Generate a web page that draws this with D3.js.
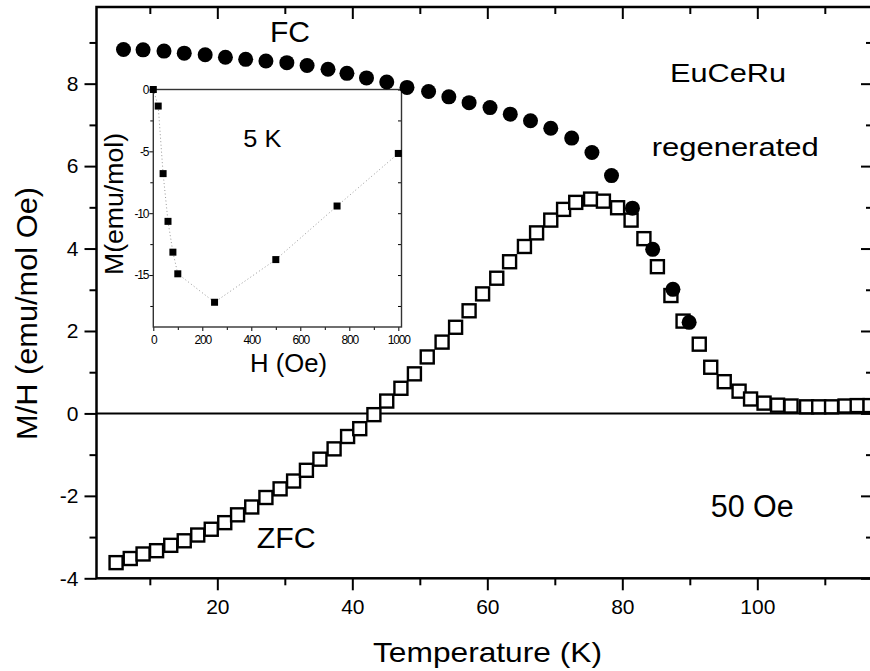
<!DOCTYPE html>
<html>
<head>
<meta charset="utf-8">
<script src="https://cdn.jsdelivr.net/npm/d3@7"></script>
<style>
  html, body { margin: 0; padding: 0; background: #fff; }
  svg { display: block; font-family: "Liberation Sans", Arial, Helvetica, sans-serif; }
</style>
</head>
<body>
<svg id="chart" width="870" height="671"></svg>
<script>
// ---- Main plot data (M/H vs Temperature, 50 Oe) ----
const fcTemp = [6.1, 9.0, 12.1, 15.1, 18.2, 21.2, 24.2, 27.2, 30.3, 33.3, 36.4, 39.2, 42.1, 45.1, 48.1,
  51.3, 54.3, 57.3, 60.4, 63.4, 66.4, 69.4, 72.5, 75.5, 78.4, 81.5, 84.5, 87.5, 89.9];
const fcMH = [8.83, 8.82, 8.79, 8.74, 8.70, 8.64, 8.59, 8.55, 8.51, 8.44, 8.35, 8.25, 8.14, 8.04, 7.91,
  7.81, 7.68, 7.54, 7.42, 7.26, 7.10, 6.92, 6.68, 6.33, 5.77, 4.98, 3.98, 3.01, 2.21];

const zfcTemp = [5.0, 7.1, 9.0, 11.0, 13.1, 15.1, 17.1, 19.1, 21.1, 23.0, 25.1, 27.2, 29.3, 31.3, 33.2,
  35.2, 37.3, 39.3, 41.1, 43.2, 45.1, 47.2, 49.2, 51.1, 53.3, 55.3, 57.3, 59.3, 61.4, 63.3,
  65.5, 67.3, 69.4, 71.3, 73.1, 75.3, 77.2, 79.3, 81.3, 83.2, 85.2, 87.2, 89.0, 91.4, 93.1,
  95.1, 97.3, 99.0, 101.0, 103.0, 105.0, 107.3, 109.1, 111.0, 113.0, 114.8, 116.7];
const zfcMH = [-3.62, -3.52, -3.41, -3.33, -3.20, -3.09, -2.95, -2.81, -2.65, -2.46, -2.27, -2.04, -1.83, -1.64, -1.38,
  -1.11, -0.86, -0.56, -0.37, -0.03, 0.30, 0.61, 0.96, 1.37, 1.73, 2.09, 2.49, 2.90, 3.28, 3.68,
  4.05, 4.38, 4.69, 4.95, 5.12, 5.20, 5.15, 4.99, 4.69, 4.24, 3.56, 2.86, 2.24, 1.68, 1.12,
  0.77, 0.54, 0.35, 0.25, 0.20, 0.18, 0.16, 0.16, 0.16, 0.18, 0.19, 0.19];

const xMajorTicks = [20, 40, 60, 80, 100];
const xMinorTicks = [10, 30, 50, 70, 90, 110];
const yMajorTicks = [-4, -2, 0, 2, 4, 6, 8];
const yMinorTicks = [-3, -1, 1, 3, 5, 7, 9];

// ---- Inset data (M vs H at 5 K) ----
const insetH = [0, 20, 40, 60, 80, 100, 250, 500, 750, 1000];
const insetM = [0, -1.34, -6.80, -10.66, -13.15, -14.9, -17.2, -13.75, -9.42, -5.17];
const insetXMajor = [0, 200, 400, 600, 800, 1000];
const insetXMinor = [100, 300, 500, 700, 900];
const insetYMajor = [0, -5, -10, -15];
const insetYMinor = [-2.5, -7.5, -12.5, -17.5];

// ---- Layout ----
const svg = d3.select("#chart");
const L = 96.5, R = 873, T = 7, B = 578.3;
const x = d3.scaleLinear().domain([2.1, 117.14]).range([L, R]);
const y = d3.scaleLinear().domain([-4, 9.86]).range([B, T]);

const IL = 153.3, IR = 401.5, IT = 89.5, IB = 327;
const ix = d3.scaleLinear().domain([0, 1013]).range([IL, IR]);
const iy = d3.scaleLinear().domain([-19.2, 0]).range([IB, IT]);

const fmt = d => String(d);  // plain hyphen-minus like the original

function styleAxis(g, sw, fs) {
  g.select(".domain").remove();
  g.selectAll(".tick line").attr("stroke", "#000").attr("stroke-width", sw);
  g.selectAll(".tick text").attr("fill", "#000").style("font-size", fs + "px")
    .style("font-family", '"Liberation Sans", Arial, sans-serif');
}

// ---- Inset (drawn first, beneath main data) ----
const inset = svg.append("g");
inset.append("g").attr("transform", `translate(0,${IB})`)
  .call(d3.axisBottom(ix).tickValues(insetXMajor).tickSize(4).tickPadding(4).tickFormat(fmt))
  .call(g => styleAxis(g, 1, 12))
  .call(g => g.selectAll(".tick text").attr("letter-spacing", "-1.2px"));
inset.append("g").attr("transform", `translate(0,${IB})`)
  .call(d3.axisBottom(ix).tickValues(insetXMinor).tickSize(3).tickFormat(""))
  .call(g => styleAxis(g, 1, 12));
inset.append("g").attr("transform", `translate(${IL},0)`)
  .call(d3.axisLeft(iy).tickValues(insetYMajor).tickSize(4).tickPadding(1).tickFormat(fmt))
  .call(g => styleAxis(g, 1, 12))
  .call(g => g.selectAll(".tick text").attr("letter-spacing", "-1.2px"));
inset.append("g").attr("transform", `translate(${IL},0)`)
  .call(d3.axisLeft(iy).tickValues(insetYMinor).tickSize(3).tickFormat(""))
  .call(g => styleAxis(g, 1, 12));
inset.append("g").attr("transform", `translate(${IR},0)`)
  .call(d3.axisRight(iy).tickValues(insetYMajor.concat(insetYMinor)).tickSize(-3.5).tickFormat(""))
  .call(g => styleAxis(g, 1, 12));
inset.append("rect")
  .attr("x", IL).attr("y", IT).attr("width", IR - IL).attr("height", IB - IT)
  .attr("fill", "none").attr("stroke", "#333").attr("stroke-width", 1.4);

const insetPts = insetH.map((h, i) => [h, insetM[i]]);
inset.append("path")
  .datum(insetPts)
  .attr("fill", "none").attr("stroke", "#999").attr("stroke-width", 1)
  .attr("stroke-dasharray", "1,2.5")
  .attr("d", d3.line().x(d => ix(d[0])).y(d => iy(d[1])));
inset.selectAll("rect.ipt").data(insetPts).enter().append("rect")
  .attr("class", "ipt")
  .attr("x", d => ix(d[0]) - 3.5).attr("y", d => iy(d[1]) - 3.5)
  .attr("width", 7).attr("height", 7).attr("fill", "#000");

inset.append("text").attr("x", 243.3).attr("y", 146.7)
  .style("font-size", "24px").attr("textLength", 38).attr("lengthAdjust", "spacingAndGlyphs").text("5 K");
inset.append("text").attr("x", 250).attr("y", 371.7)
  .style("font-size", "26px").attr("textLength", 77).attr("lengthAdjust", "spacingAndGlyphs").text("H (Oe)");
inset.append("text")
  .attr("transform", "translate(123,204) rotate(-90)")
  .attr("text-anchor", "middle")
  .style("font-size", "26px").attr("textLength", 142).attr("lengthAdjust", "spacingAndGlyphs").text("M(emu/mol)");

// ---- Main axes ----
const axes = svg.append("g");
axes.append("g").attr("transform", `translate(0,${B})`)
  .call(d3.axisBottom(x).tickValues(xMajorTicks).tickSize(12).tickPadding(9).tickFormat(fmt))
  .call(g => styleAxis(g, 2, 21));
axes.append("g").attr("transform", `translate(0,${B})`)
  .call(d3.axisBottom(x).tickValues(xMinorTicks).tickSize(7).tickFormat(""))
  .call(g => styleAxis(g, 2, 21));
axes.append("g").attr("transform", `translate(0,${T})`)
  .call(d3.axisTop(x).tickValues(xMajorTicks).tickSize(-12).tickFormat(""))
  .call(g => styleAxis(g, 2, 21));
axes.append("g").attr("transform", `translate(0,${T})`)
  .call(d3.axisTop(x).tickValues(xMinorTicks).tickSize(-7).tickFormat(""))
  .call(g => styleAxis(g, 2, 21));
axes.append("g").attr("transform", `translate(${L},0)`)
  .call(d3.axisLeft(y).tickValues(yMajorTicks).tickSize(12).tickPadding(6).tickFormat(fmt))
  .call(g => styleAxis(g, 2, 21));
axes.append("g").attr("transform", `translate(${L},0)`)
  .call(d3.axisLeft(y).tickValues(yMinorTicks).tickSize(7).tickFormat(""))
  .call(g => styleAxis(g, 2, 21));
axes.append("g").attr("transform", `translate(${R},0)`)
  .call(d3.axisRight(y).tickValues(yMajorTicks).tickSize(-12).tickFormat(""))
  .call(g => styleAxis(g, 2, 21));
axes.append("g").attr("transform", `translate(${R},0)`)
  .call(d3.axisRight(y).tickValues(yMinorTicks).tickSize(-7).tickFormat(""))
  .call(g => styleAxis(g, 2, 21));

axes.append("rect")
  .attr("x", L).attr("y", T).attr("width", R - L).attr("height", B - T)
  .attr("fill", "none").attr("stroke", "#000").attr("stroke-width", 2.5);
// zero line
axes.append("line")
  .attr("x1", L).attr("x2", R).attr("y1", y(0)).attr("y2", y(0))
  .attr("stroke", "#000").attr("stroke-width", 2);

// ---- Data marks ----
const zfcPts = zfcTemp.map((t, i) => [t, zfcMH[i]]);
svg.append("g").selectAll("rect").data(zfcPts).enter().append("rect")
  .attr("x", d => x(d[0]) - 6.5).attr("y", d => y(d[1]) - 6.5)
  .attr("width", 13).attr("height", 13)
  .attr("fill", "#fff").attr("stroke", "#000").attr("stroke-width", 2.4);

const fcPts = fcTemp.map((t, i) => [t, fcMH[i]]);
svg.append("g").selectAll("circle").data(fcPts).enter().append("circle")
  .attr("cx", d => x(d[0])).attr("cy", d => y(d[1])).attr("r", 7.5)
  .attr("fill", "#000");

// ---- Annotations ----
function label(txt, x0, base, size, width) {
  svg.append("text").attr("x", x0).attr("y", base)
    .style("font-size", size + "px")
    .attr("textLength", width).attr("lengthAdjust", "spacingAndGlyphs")
    .attr("fill", "#000").text(txt);
}
label("FC", 270, 42, 30, 40);
label("ZFC", 256.7, 548.3, 30, 59);
label("EuCeRu", 670, 81.7, 26, 116);
label("regenerated", 651.7, 156, 26, 167);
label("50 Oe", 710.7, 517.3, 31, 83);
label("Temperature (K)", 373, 661.5, 28, 229);

svg.append("text")
  .attr("transform", "translate(37,313.5) rotate(-90)")
  .attr("text-anchor", "middle")
  .style("font-size", "30px").attr("textLength", 253).attr("lengthAdjust", "spacingAndGlyphs")
  .text("M/H (emu/mol Oe)");
</script>
</body>
</html>
